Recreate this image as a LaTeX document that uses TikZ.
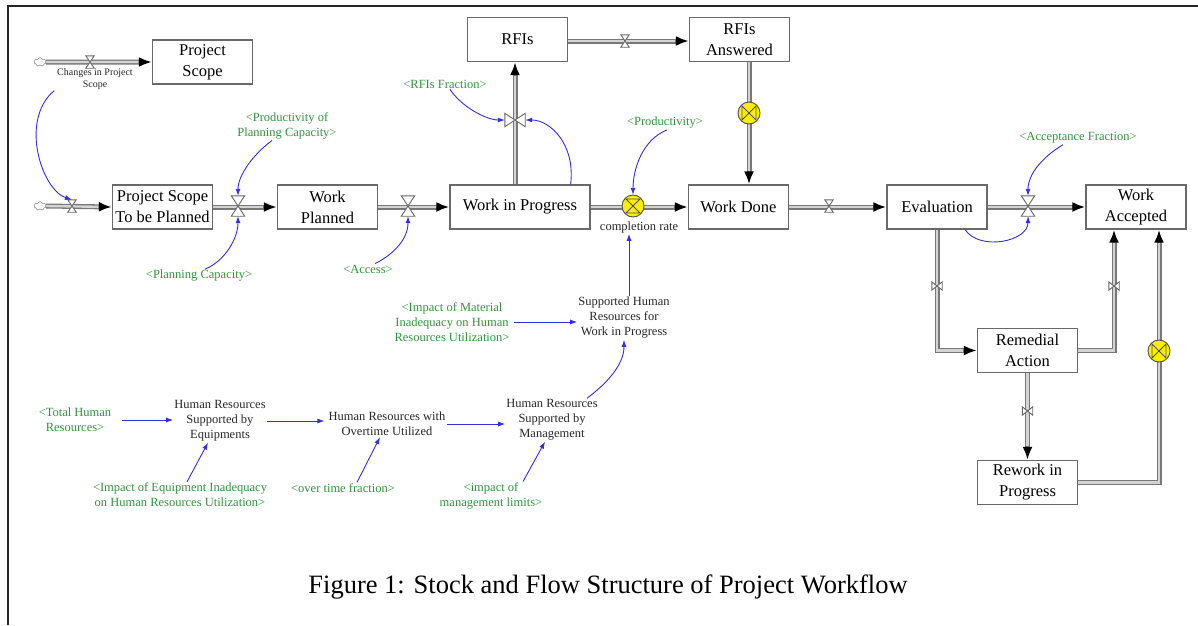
\documentclass[tikz,border=0pt]{standalone}
\usepackage{fontspec}
\setmainfont{Liberation Serif}
\usetikzlibrary{arrows.meta,calc,shapes.symbols}

\definecolor{pipeedge}{RGB}{120,120,120}
\definecolor{pipefill}{RGB}{212,212,212}
\definecolor{boxline}{RGB}{105,105,105}
\definecolor{shadowgreen}{RGB}{46,150,58}
\definecolor{linkblue}{RGB}{48,48,220}
\definecolor{valveyellow}{RGB}{252,240,0}

\tikzset{
  frame/.style      = {draw=black!85, line width=2.4pt},
  stock/.style      = {draw=boxline, line width=1.2pt, fill=white, align=center,
                       minimum width=100pt, minimum height=44pt, inner sep=3pt,
                       font=\fontsize{16.5}{21}\selectfont},
  aux/.style        = {align=center, inner sep=1pt, text=black!85, font=\fontsize{12.5}{15}\selectfont},
  shadow/.style     = {aux, text=shadowgreen},
  tiny/.style       = {aux, font=\fontsize{10}{12}\selectfont},
  caption/.style    = {font=\fontsize{26.5}{30}\selectfont},
  pipe/.style       = {draw=pipeedge, line width=5pt, -{Latex[length=13pt,width=10pt,color=black]},
                       postaction={draw=pipefill, line width=2.4pt, -, shorten >=13.5pt}},
  link/.style       = {draw=linkblue, line width=0.9pt, -{Latex[length=7pt,width=5pt]}},
  source/.style     = {cloud, cloud puffs=7, aspect=1.4, draw=black!60, fill=white,
                       inner sep=0pt, minimum width=12pt, minimum height=9pt},
  valve/.style      = {inner sep=0pt, minimum width=13pt, minimum height=20pt},
  smallvalve/.style = {inner sep=0pt, minimum width=8pt, minimum height=12pt},
  sidevalve/.style  = {inner sep=0pt, minimum width=20pt, minimum height=13pt},
  smallside/.style  = {inner sep=0pt, minimum width=10pt, minimum height=8pt},
  rate/.style       = {inner sep=0pt, minimum size=22pt},
  valveline/.style  = {draw=black!60, fill=white, line width=0.9pt},
  yellowline/.style = {draw=black!70, line width=0.9pt}
}

% valve glyphs drawn on top of the pipes
\newcommand{\hourglass}[1]{\draw[valveline] (#1.north west) -- (#1.north east) -- (#1.south west) -- (#1.south east) -- cycle;}
\newcommand{\sidebow}[1]{\draw[valveline] (#1.north west) -- (#1.south west) -- (#1.north east) -- (#1.south east) -- cycle;}
\newcommand{\ratehour}[1]{\draw[yellowline, fill=valveyellow] (#1) circle (11);
  \draw[yellowline] ($(#1)+(-7,-7)$) -- ($(#1)+(7,-7)$) -- ($(#1)+(-7,7)$) -- ($(#1)+(7,7)$) -- cycle;}
\newcommand{\rateside}[1]{\draw[yellowline, fill=valveyellow] (#1) circle (11);
  \draw[yellowline] ($(#1)+(-7,-7)$) -- ($(#1)+(-7,7)$) -- ($(#1)+(7,-7)$) -- ($(#1)+(7,7)$) -- cycle;}

\begin{document}
\begin{tikzpicture}[x=1pt, y=-1pt]
\useasboundingbox (0,0) rectangle (1198,625);
\draw[frame] (8,625) -- (8,6) -- (1198,6);

% stocks
\node[stock] (scope)   at (202.5,62)  {Project\\Scope};
\node[stock] (topl)    at (162.5,207) {Project Scope\\To be Planned};
\node[stock] (planned) at (327.5,207) {Work\\Planned};
\node[stock, minimum width=140pt] (wip) at (520,207) {Work in Progress};
\node[stock] (rfi)     at (517.5,39.5) {RFIs};
\node[stock] (rfians)  at (739.5,39.5) {RFIs\\Answered};
\node[stock] (done)    at (738.5,207) {Work Done};
\node[stock] (eval)    at (937,207)   {Evaluation};
\node[stock] (acc)     at (1136,207)  {Work\\Accepted};
\node[stock] (rem)     at (1027.5,350.5) {Remedial\\Action};
\node[stock] (rew)     at (1027.5,482.5) {Rework in\\Progress};

% clouds and valves
\node[source] (src1) at (40,62) {};
\node[source] (src2) at (40,206) {};
\node[smallvalve] (vchg)   at (90,62)   {};
\node[smallvalve] (vin)    at (72,206)  {};
\node[valve]      (vplan)  at (238,206) {};
\node[valve]      (vacc)   at (408,206) {};
\node[sidevalve]  (vrfi)   at (515,120) {};
\node[smallvalve] (vanswer) at (625,41) {};
\node[rate]       (vans)   at (749,113) {};
\node[rate]       (vcomp)  at (633,206) {};
\node[smallvalve] (vdone)  at (829,206) {};
\node[valve]      (vaccept) at (1028,206) {};
\node[smallside]  (vrem)   at (937,286) {};
\node[smallside]  (vfix)   at (1114,286) {};
\node[smallside]  (vredo)  at (1027.5,411) {};
\node[rate]       (vrew)   at (1159,351) {};

% auxiliaries and shadow variables
\node[tiny]   (chg)      at (95,79)   {Changes in Project\\Scope};
\node[shadow] (prodplan) at (287,126) {<Productivity of\\Planning Capacity>};
\node[shadow] (plancap)  at (199,276) {<Planning Capacity>};
\node[shadow] (access)   at (368,269) {<Access>};
\node[shadow] (rfifrac)  at (445,84)  {<RFIs Fraction>};
\node[shadow] (prod)     at (665,123) {<Productivity>};
\node[aux]    (comprate) at (639,227) {completion rate};
\node[shadow] (accfrac)  at (1078,138) {<Acceptance Fraction>};
\node[aux]    (supp)     at (624,318) {Supported Human\\Resources for\\Work in Progress};
\node[shadow] (matimp)   at (452,322) {<Impact of Material\\Inadequacy on Human\\Resources Utilization>};
\node[shadow] (total)    at (75,420)  {<Total Human\\Resources>};
\node[aux]    (hreq)     at (220,421) {Human Resources\\Supported by\\Equipments};
\node[aux]    (hrover)   at (387,424) {Human Resources with\\Overtime Utilized};
\node[aux]    (hrman)    at (552,420) {Human Resources\\Supported by\\Management};
\node[shadow] (eqimp)    at (180,495) {<Impact of Equipment Inadequacy\\on Human Resources Utilization>};
\node[shadow] (overfrac) at (343,488) {<over time fraction>};
\node[shadow] (mgmt)     at (491,496) {<impact of\\management limits>};

\node[caption] (cap) at (608,587) {Figure 1: Stock and Flow Structure of Project Workflow};

% flows
\draw[pipe] (src1.east) -- (scope.west);
\draw[pipe] (src2.east) -- (topl.west);
\draw[pipe] (topl.east) -- (planned.west);
\draw[pipe] (planned.east) -- (wip.west);
\draw[pipe] (wip.north -| vrfi) -- (rfi.south -| vrfi);
\draw[pipe] (rfi.east |- vanswer) -- (rfians.west |- vanswer);
\draw[pipe] (rfians.south -| vans) -- (done.north -| vans);
\draw[pipe] (wip.east) -- (done.west);
\draw[pipe] (done.east) -- (eval.west);
\draw[pipe] (eval.east) -- (acc.west);
\draw[pipe] (eval.south) |- (rem.west);
\draw[pipe] (rem.east) -| (acc.south -| vfix);
\draw[pipe] (rem.south) -- (rew.north);
\draw[pipe] (rew.east) -| (acc.south -| vrew);

\hourglass{vchg}
\hourglass{vin}
\hourglass{vplan}
\hourglass{vacc}
\sidebow{vrfi}
\hourglass{vanswer}
\rateside{vans}
\ratehour{vcomp}
\hourglass{vdone}
\hourglass{vaccept}
\sidebow{vrem}
\sidebow{vfix}
\sidebow{vredo}
\rateside{vrew}

% information links
\draw[link] ([xshift=-2pt]chg.south west) .. controls +(-35,30) and +(-30,-10) .. (vin.north);
\draw[link] ([xshift=-15pt]prodplan.south) .. controls +(-20,15) and +(0,-20) .. (vplan.north);
\draw[link] ([xshift=6pt]plancap.north) .. controls +(20,-8) and +(0,22) .. (vplan.south);
\draw[link] ([xshift=7pt]access.north) .. controls +(20,-10) and +(0,22) .. (vacc.south);
\draw[link] ([xshift=5pt]rfifrac.south) .. controls +(12,18) and +(-18,0) .. (vrfi.west);
\draw[link] ([xshift=-20pt]wip.north east) .. controls +(5,-40) and +(25,0) .. (vrfi.east);
\draw[link] ([xshift=2pt]prod.south) .. controls +(-25,10) and +(0,-25) .. (vcomp.north);
\draw[link] ([xshift=5pt]supp.north) -- ([xshift=5pt]supp.north |- comprate.south);
\draw[link] ([xshift=-15pt]accfrac.south) .. controls +(-20,12) and +(0,-22) .. (vaccept.north);
\draw[link] ([xshift=28pt]eval.south) .. controls +(15,22) and +(0,25) .. (vaccept.south);
\draw[link, shorten <=3pt] (matimp.east) -- (matimp.east -| supp.west);
\draw[link, shorten <=10pt] (total.east) -- (total.east -| hreq.west);
\draw[link, shorten >=3pt] (hreq.east) -- (hreq.east -| hrover.west);
\draw[link] (hrover.east) -- (hrover.east -| hrman.west);
\draw[link] ([xshift=-12pt]hrman.north east) .. controls +(20,-15) and +(0,25) .. (supp.south);
\draw[link] ([xshift=7pt]eqimp.north) -- ([xshift=-12pt]hreq.south);
\draw[link] ([xshift=14pt]overfrac.north) -- ([xshift=-7pt]hrover.south);
\draw[link] ([xshift=32pt]mgmt.north) -- ([xshift=-7pt]hrman.south);

\end{tikzpicture}
\end{document}
